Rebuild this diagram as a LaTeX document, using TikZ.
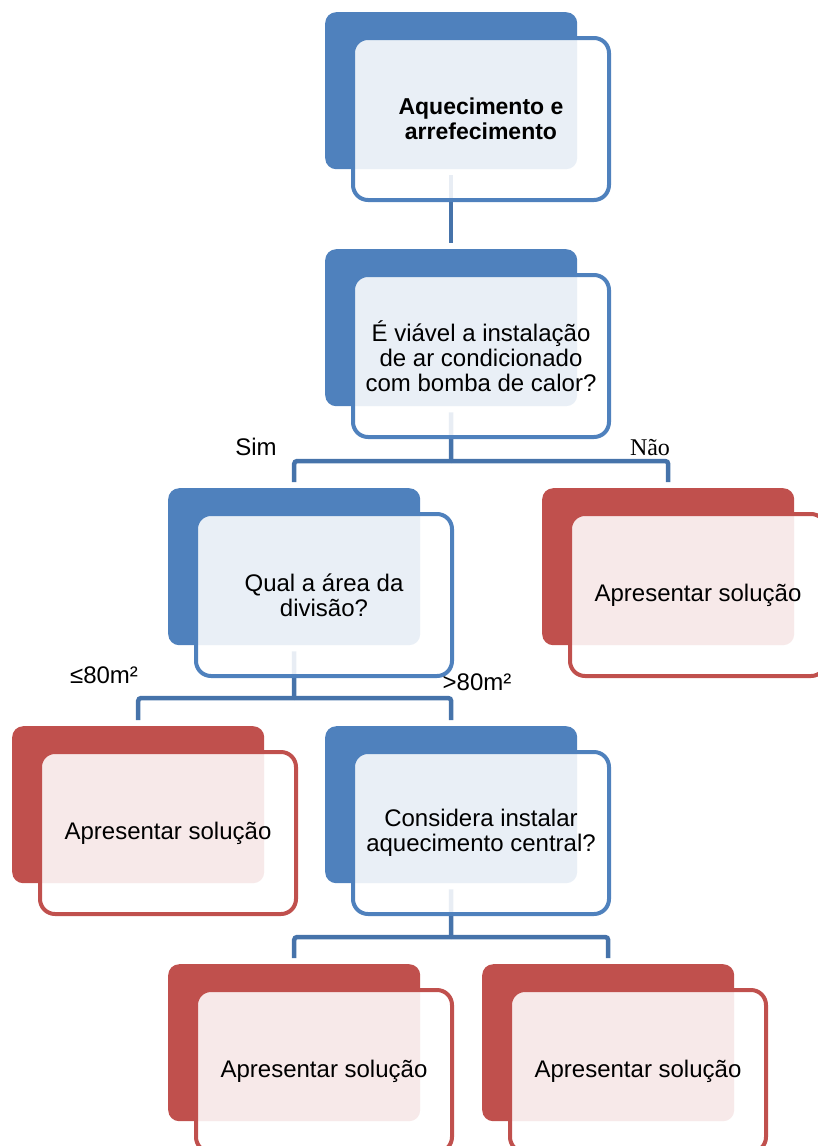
\documentclass[tikz,border=0pt]{standalone}
\usepackage{fontspec}
\setmainfont{Liberation Sans}
\newfontfamily\timesfont{Liberation Serif}
\definecolor{accblue}{RGB}{79,129,189}
\definecolor{accred}{RGB}{192,80,77}
\definecolor{linkblue}{RGB}{70,115,170}
\tikzset{
  backbox/.style={rectangle, rounded corners=11bp, minimum width=252bp,
    minimum height=157bp, anchor=north west, inner sep=0pt, fill=#1},
  frontbox/.style={rectangle, rounded corners=15bp, minimum width=256bp,
    minimum height=162bp, anchor=north west, draw=#1, line width=4bp,
    fill=white, fill opacity=0.88, text opacity=1, draw opacity=1,
    align=center, inner sep=0pt, text=black,
    font=\fontsize{24bp}{25bp}\selectfont},
  link/.style={draw=linkblue, line width=4.5bp, rounded corners=3bp},
  tag/.style={anchor=base, inner sep=0pt, text=black,
    font=\fontsize{24bp}{25bp}\selectfont},
}
\begin{document}
\begin{tikzpicture}[x=1bp,y=-1bp]
\clip (0,0) rectangle (818,1146);

% solid back panels
\node[backbox=accblue] (b1) at (325,12)  {};
\node[backbox=accblue] (b2) at (325,249) {};
\node[backbox=accblue] (b3) at (168,488) {};
\node[backbox=accred]  (b4) at (542,488) {};
\node[backbox=accred]  (b5) at (12,726)  {};
\node[backbox=accblue] (b6) at (325,726) {};
\node[backbox=accred]  (b7) at (168,964) {};
\node[backbox=accred]  (b8) at (482,964) {};

% junction points of the branches
\coordinate (j2) at (451,461);
\coordinate (j3) at (294,698);
\coordinate (j6) at (451,937);

% connectors
\draw[link] ([yshift=-6bp]b1.south) -- ([yshift=6bp]b2.north);
\draw[link] ([yshift=-6bp]b2.south) -- (j2);
\draw[link] (j2) -| ([yshift=6bp]b3.north);
\draw[link] (j2) -| ([yshift=6bp]b4.north);
\draw[link] ([yshift=-6bp]b3.south) -- (j3);
\draw[link] (j3) -| ([yshift=6bp]b5.north);
\draw[link] (j3) -| ([yshift=6bp]b6.north);
\draw[link] ([yshift=-6bp]b6.south) -- (j6);
\draw[link] (j6) -| ([yshift=6bp]b7.north);
\draw[link] (j6) -| ([yshift=6bp]b8.north);

% translucent front panels with the texts
\node[frontbox=accblue, font=\fontsize{23bp}{25bp}\selectfont\bfseries]
  (f1) at (351,36) {Aquecimento e\\arrefecimento};
\node[frontbox=accblue] (f2) at (351,273)
  {É viável a instalação\\de ar condicionado\\com bomba de calor?};
\node[frontbox=accblue] (f3) at (194,512) {Qual a área da\\divisão?};
\node[frontbox=accred]  (f4) at (568,512) {Apresentar solução};
\node[frontbox=accred]  (f5) at (38,750)  {Apresentar solução};
\node[frontbox=accblue] (f6) at (351,750)
  {Considera instalar\\aquecimento central?};
\node[frontbox=accred]  (f7) at (194,988) {Apresentar solução};
\node[frontbox=accred]  (f8) at (508,988) {Apresentar solução};

% branch labels
\node[tag] (lsim) at (256,455) {Sim};
\node[tag, font=\timesfont\fontsize{24bp}{25bp}\selectfont] (lnao) at (650,455) {Não};
\node[tag] (lle) at (104,683) {≤80m²};
\node[tag] (lgt) at (477,690) {>80m²};
\end{tikzpicture}
\end{document}
